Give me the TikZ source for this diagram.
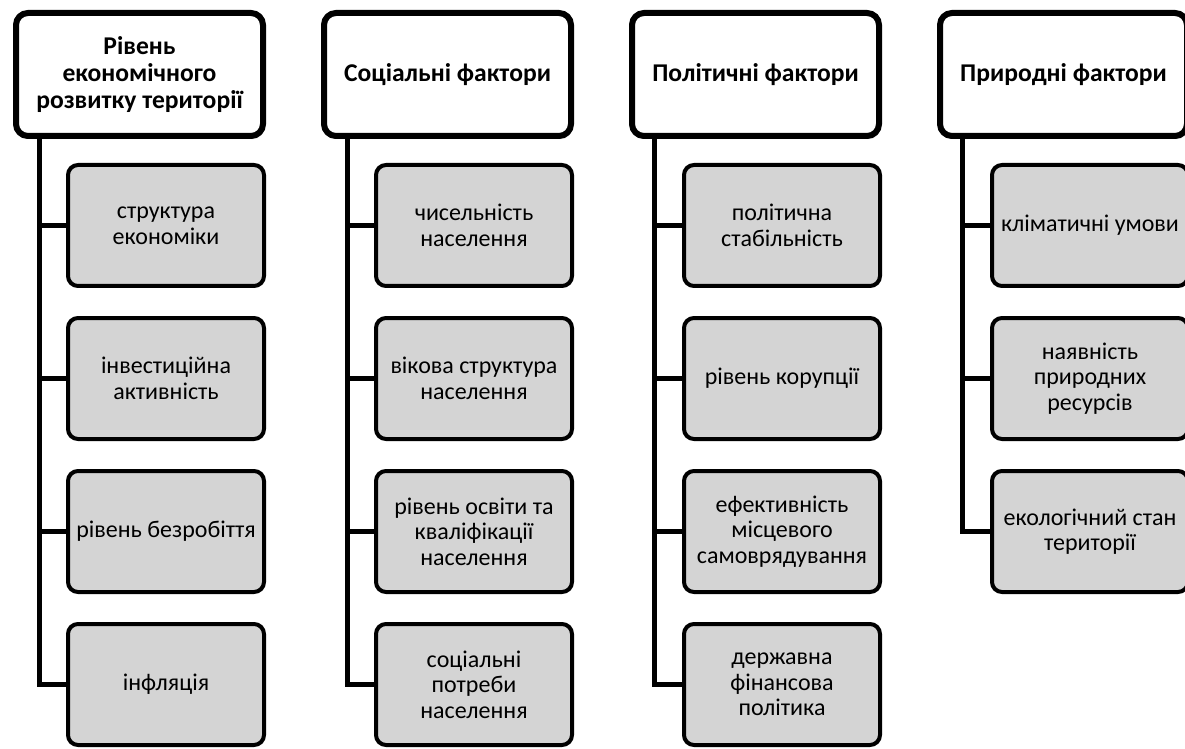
\documentclass[tikz,border=0pt]{standalone}
\usepackage{fontspec}
\setmainfont{Carlito}
\usetikzlibrary{calc,positioning,shadows}
\definecolor{blockgray}{rgb}{0.83,0.83,0.83}
\tikzset{
  kopf/.style={
    rounded corners=6pt,
    draw=black,
    line width=3pt,
    fill=white,
    align=center,
    minimum width=123.5pt,
    minimum height=61.5pt,
    inner sep=2pt,
    anchor=north west,
    font=\fontsize{12.8}{13.6}\selectfont\bfseries,
    drop shadow={opacity=.22, shadow xshift=.8pt, shadow yshift=-1.6pt}
  },
  faktor/.style={
    rounded corners=5pt,
    draw=black,
    line width=2pt,
    fill=blockgray,
    align=center,
    minimum width=98pt,
    minimum height=60.5pt,
    inner sep=1pt,
    font=\fontsize{12}{12.8}\selectfont
  },
  ast/.style={
    line width=2.5pt,
    black
  }
}
\begin{document}
\begin{tikzpicture}[node distance=14pt]
\useasboundingbox (0,0) rectangle (592.5pt,-374.5pt);
% headers
\node[kopf] (h1) at (6.5pt,-5pt) {Рівень\\економічного\\розвитку території};
\node[kopf] (h2) at (160.5pt,-5pt) {Соціальні фактори};
\node[kopf] (h3) at (314.5pt,-5pt) {Політичні фактори};
\node[kopf] (h4) at (468.5pt,-5pt) {Природні фактори};
% column 1
\node[faktor, below left=12pt and 0pt of h1.south east] (c11) {структура\\економіки};
\node[faktor, below=of c11] (c12) {інвестиційна\\активність};
\node[faktor, below=of c12] (c13) {рівень безробіття};
\node[faktor, below=of c13] (c14) {інфляція};
% column 2
\node[faktor, below left=12pt and 0pt of h2.south east] (c21) {чисельність\\населення};
\node[faktor, below=of c21] (c22) {вікова структура\\населення};
\node[faktor, below=of c22] (c23) {рівень освіти та\\кваліфікації\\населення};
\node[faktor, below=of c23] (c24) {соціальні\\потреби\\населення};
% column 3
\node[faktor, below left=12pt and 0pt of h3.south east] (c31) {політична\\стабільність};
\node[faktor, below=of c31] (c32) {рівень корупції};
\node[faktor, below=of c32] (c33) {ефективність\\місцевого\\самоврядування};
\node[faktor, below=of c33] (c34) {державна\\фінансова\\політика};
% column 4
\node[faktor, below left=12pt and 0pt of h4.south east] (c41) {кліматичні умови};
\node[faktor, below=of c41] (c42) {наявність\\природних\\ресурсів};
\node[faktor, below=of c42] (c43) {екологічний стан\\території};
% trunks
\coordinate (t1) at ($(h1.south west)+(13pt,0)$);
\coordinate (t2) at ($(h2.south west)+(13pt,0)$);
\coordinate (t3) at ($(h3.south west)+(12.5pt,0)$);
\coordinate (t4) at ($(h4.south west)+(12.5pt,0)$);
\draw[ast] (t1) |- (c11.west);
\draw[ast] (t1) |- (c12.west);
\draw[ast] (t1) |- (c13.west);
\draw[ast] (t1) |- (c14.west);
\draw[ast] (t2) |- (c21.west);
\draw[ast] (t2) |- (c22.west);
\draw[ast] (t2) |- (c23.west);
\draw[ast] (t2) |- (c24.west);
\draw[ast] (t3) |- (c31.west);
\draw[ast] (t3) |- (c32.west);
\draw[ast] (t3) |- (c33.west);
\draw[ast] (t3) |- (c34.west);
\draw[ast] (t4) |- (c41.west);
\draw[ast] (t4) |- (c42.west);
\draw[ast] (t4) |- (c43.west);
\end{tikzpicture}
\end{document}
